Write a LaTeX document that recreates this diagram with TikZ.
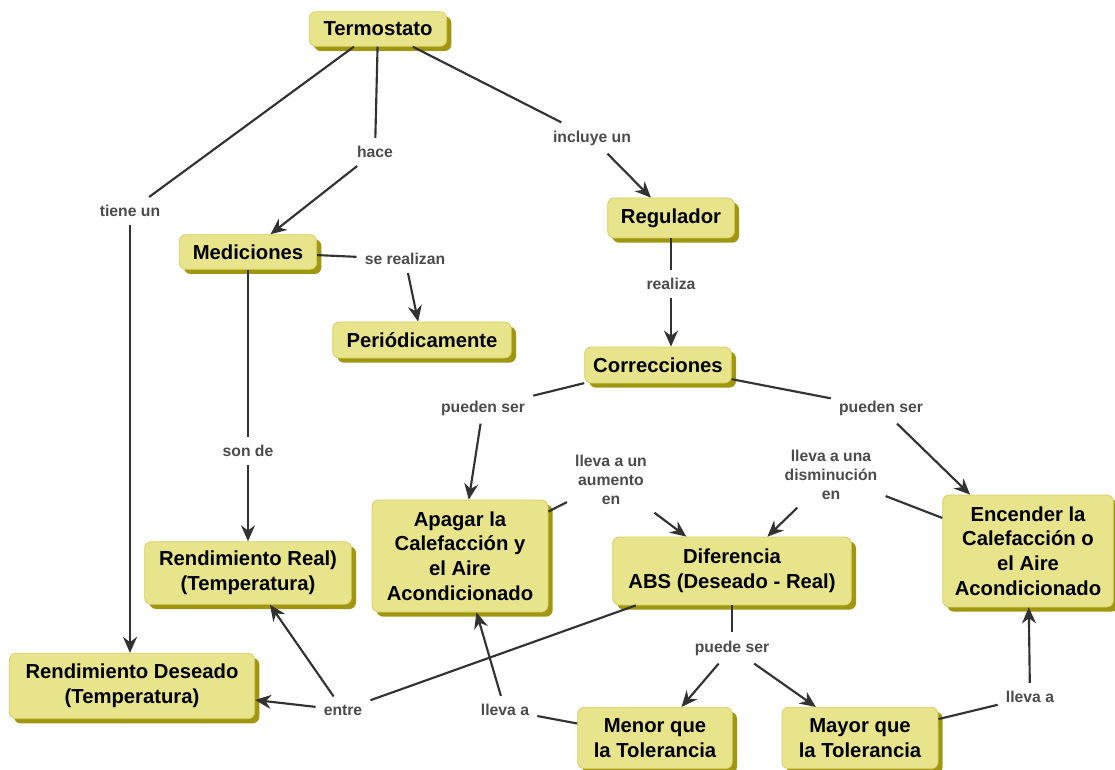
\documentclass[tikz,border=0pt]{standalone}
\usepackage{fontspec}
\setmainfont{Liberation Sans}
\usetikzlibrary{arrows.meta,shadows}
\definecolor{cajafill}{RGB}{232,228,140}
\definecolor{cajaborde}{RGB}{214,206,100}
\definecolor{cajasombra}{RGB}{160,150,15}
\definecolor{linea}{RGB}{50,50,50}
\definecolor{etiq}{RGB}{75,75,75}
\begin{document}
\begin{tikzpicture}[x = .75pt, y = -.75pt,
	caja/.style = {rectangle, rounded corners = 5pt, fill = cajafill, draw = cajaborde, line width = .6pt,
		align = center, inner sep = 2pt, font = \fontsize{15.2}{18.5}\selectfont\bfseries,
		general shadow = {fill = cajasombra, shadow xshift = 3.5pt, shadow yshift = -3.5pt}},
	etiqueta/.style = {text = etiq, align = center, inner sep = 6pt, font = \fontsize{11.8}{14}\selectfont\bfseries},
	enlace/.style = {draw = linea, line width = 1.6pt},
	flecha/.style = {enlace, -{Stealth[length = 12pt, width = 10.5pt]}}]
	\useasboundingbox (0,0) rectangle (1115,770);
	% conceptos
	\node[caja, minimum width = 103pt, minimum height = 26pt] (termostato) at (378,29) {Termostato};
	\node[caja, minimum width = 103pt, minimum height = 26pt] (mediciones) at (248,252) {Mediciones};
	\node[caja, minimum width = 134pt, minimum height = 27pt] (periodic) at (422,340) {Periódicamente};
	\node[caja, minimum width = 95pt, minimum height = 30pt] (regulador) at (671,218) {Regulador};
	\node[caja, minimum width = 110pt, minimum height = 27pt] (correc) at (658,365) {Correcciones};
	\node[caja, minimum width = 132pt, minimum height = 84pt] (apagar) at (460,556) {Apagar la\\Calefacción y\\el Aire\\Acondicionado};
	\node[caja, minimum width = 179pt, minimum height = 51pt] (diferencia) at (732,571) {Diferencia\\ABS (Deseado - Real)};
	\node[caja, minimum width = 128pt, minimum height = 84pt] (encender) at (1028,551) {Encender la\\Calefacción o\\el Aire\\Acondicionado};
	\node[caja, minimum width = 155pt, minimum height = 47pt] (rreal) at (248,573) {Rendimiento Real)\\(Temperatura)};
	\node[caja, minimum width = 184pt, minimum height = 49pt] (rdeseado) at (132,686) {Rendimiento Deseado\\(Temperatura)};
	\node[caja, minimum width = 116pt, minimum height = 46pt] (menor) at (655,738) {Menor que\\la Tolerancia};
	\node[caja, minimum width = 117pt, minimum height = 46pt] (mayor) at (860,738) {Mayor que\\la Tolerancia};
	% frases de enlace
	\node[etiqueta] (tiene) at (130,211) {tiene un};
	\node[etiqueta] (hace) at (375,152) {hace};
	\node[etiqueta] (incluye) at (592,138) {incluye un};
	\node[etiqueta] (serealizan) at (405,259) {se realizan};
	\node[etiqueta] (sonde) at (248,451) {son de};
	\node[etiqueta] (realiza) at (671,284) {realiza};
	\node[etiqueta] (puedenizq) at (483,408) {pueden ser};
	\node[etiqueta] (puedender) at (881,408) {pueden ser};
	\node[etiqueta] (aumento) at (611,480) {lleva a un\\aumento\\en};
	\node[etiqueta] (disminucion) at (831,475) {lleva a una\\disminución\\en};
	\node[etiqueta] (puede) at (732,648) {puede ser};
	\node[etiqueta] (entre) at (343,710) {entre};
	\node[etiqueta] (llevamenor) at (505,710) {lleva a};
	\node[etiqueta] (llevamayor) at (1030,697) {lleva a};
	% conexiones
	\draw[enlace] (termostato) -- (tiene);
	\draw[flecha] (tiene) -- (tiene |- rdeseado.north);
	\draw[enlace] (termostato) -- (hace);
	\draw[flecha] (hace) -- (mediciones);
	\draw[enlace] (termostato) -- (incluye);
	\draw[flecha] (incluye) -- (regulador);
	\draw[enlace] (mediciones) -- (serealizan);
	\draw[flecha] (serealizan) -- (periodic);
	\draw[enlace] (mediciones) -- (sonde);
	\draw[flecha] (sonde) -- (rreal);
	\draw[enlace] (regulador) -- (realiza);
	\draw[flecha] (realiza) -- (realiza |- correc.north);
	\draw[enlace] (correc) -- (puedenizq);
	\draw[flecha] (puedenizq) -- (apagar);
	\draw[enlace] (correc) -- (puedender);
	\draw[flecha] (puedender) -- (encender);
	\draw[enlace] (apagar) -- (aumento);
	\draw[flecha] (aumento) -- (diferencia);
	\draw[enlace] (encender) -- (disminucion);
	\draw[flecha] (disminucion) -- (diferencia);
	\draw[enlace] (diferencia) -- (puede);
	\draw[flecha] (puede) -- (menor);
	\draw[flecha] (puede) -- (mayor);
	\draw[enlace] (diferencia) -- (entre);
	\draw[flecha] (entre) -- (rdeseado);
	\draw[flecha] (entre) -- (rreal);
	\draw[enlace] (menor) -- (llevamenor);
	\draw[flecha] (llevamenor) -- (apagar);
	\draw[enlace] (mayor) -- (llevamayor);
	\draw[flecha] (llevamayor) -- (encender);
\end{tikzpicture}
\end{document}
